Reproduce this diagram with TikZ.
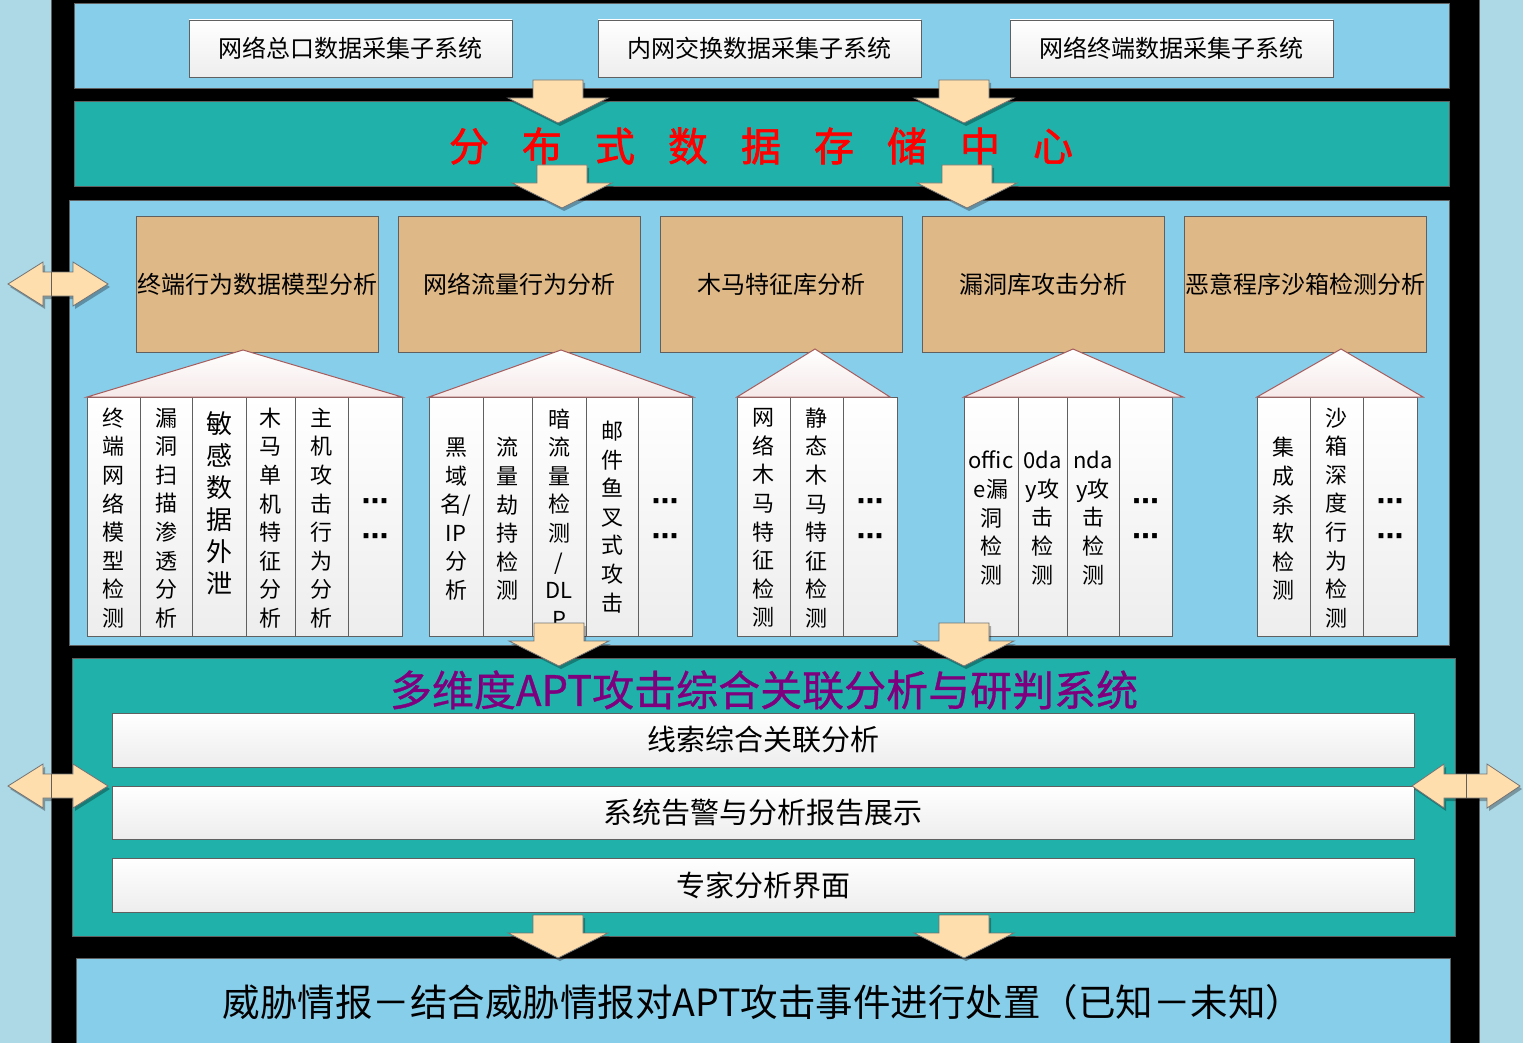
\documentclass[tikz,border=0pt]{standalone}
\usepackage{fontspec}
\setmainfont{Noto Sans CJK SC}
\newfontfamily\dotsfont{DejaVu Sans}
\newfontfamily\cjkheavy[FakeBold=1.6]{Noto Sans CJK SC}
\newfontfamily\cjkmid[FakeBold=0.8]{Noto Sans CJK SC}
\definecolor{skyb}{HTML}{87CEEB}
\definecolor{lightb}{HTML}{ADD8E6}
\definecolor{tealb}{HTML}{20B2AA}
\definecolor{burly}{HTML}{DEB887}
\definecolor{arrowfill}{HTML}{FFDEAD}
\definecolor{roofline}{HTML}{A65C5C}
\definecolor{rooffill}{HTML}{F6E9E9}
\definecolor{purp}{HTML}{7F007F}
\definecolor{edgegray}{HTML}{606060}
\newcommand\sgap{\hspace{33pt}}
\newcommand\dblarrowshape[5]{%
  \fill[black,opacity=0.3,shift={(2,3)}] (#1,#5) -- (#2,#5-22) -- (#2,#5-12) -- (#3,#5-12) -- (#3,#5-22) -- (#4,#5) -- (#3,#5+22) -- (#3,#5+12) -- (#2,#5+12) -- (#2,#5+22) -- cycle;
  \draw[arr] (#1,#5) -- (#2,#5-22) -- (#2,#5-12) -- (#3,#5-12) -- (#3,#5-22) -- (#4,#5) -- (#3,#5+22) -- (#3,#5+12) -- (#2,#5+12) -- (#2,#5+22) -- cycle;}
\tikzset{
  box/.style={draw=edgegray, line width=0.9pt, inner sep=0pt, outer sep=0pt, anchor=north west},
  whitebox/.style={box, top color=white, bottom color=black!7},
  colbox/.style={box, top color=white, bottom color=black!7, minimum width=#1, minimum height=239pt},
  arr/.style={fill=arrowfill, draw=black!55, line width=0.8pt},
  roof/.style={draw=roofline, line width=1pt, top color=white, bottom color=rooffill},
  ttl/.style={font=\fontsize{24}{28}\selectfont},
  coltext/.style={align=center, inner sep=0pt, font=\fontsize{22}{28.6}\selectfont},
  dotstext/.style={align=center, inner sep=0pt, font=\dotsfont\bfseries\fontsize{27}{35}\selectfont},
  pics/downarr/.style={code={
    \fill[black,opacity=0.3,shift={(2,3)}] (-25,0) -- (25,0) -- (25,18) -- (50,18) -- (0,43) -- (-50,18) -- (-25,18) -- cycle;
    \draw[arr] (-25,0) -- (25,0) -- (25,18) -- (50,18) -- (0,43) -- (-50,18) -- (-25,18) -- cycle;
  }}
}
\begin{document}
\begin{tikzpicture}[x=1pt,y=-1pt]
\useasboundingbox (0,0) rectangle (1523,1043);
\fill[black] (0,0) rectangle (1523,1043);
% side strips
\node[box, fill=lightb, minimum width=53pt, minimum height=1047pt] (lstrip) at (-2,-2) {};
\node[box, fill=lightb, minimum width=48pt, minimum height=1047pt] (rstrip) at (1479,-2) {};
% top band
\node[box, fill=skyb, minimum width=1375pt, minimum height=85pt] (topband) at (74,3) {};
\node[whitebox, ttl, minimum width=323pt, minimum height=57pt] (s1) at (189,20) {网络总口数据采集子系统};
\node[whitebox, ttl, minimum width=323pt, minimum height=57pt] (s2) at (598,20) {内网交换数据采集子系统};
\node[whitebox, ttl, minimum width=323pt, minimum height=57pt] (s3) at (1010,20) {网络终端数据采集子系统};
% storage band
\node[box, fill=tealb, minimum width=1375pt, minimum height=85pt] (store) at (74,101) {};
\node[red, font=\cjkheavy\fontsize{40}{44}\selectfont, inner sep=0pt] (storetitle) at (761,146) {分\sgap 布\sgap 式\sgap 数\sgap 据\sgap 存\sgap 储\sgap 中\sgap 心};
% middle band
\node[box, fill=skyb, minimum width=1380pt, minimum height=445pt] (midband) at (69,200) {};
\node[box, fill=burly, ttl, minimum width=242pt, minimum height=136pt] (m1) at (136,216) {终端行为数据模型分析};
\node[box, fill=burly, ttl, minimum width=242pt, minimum height=136pt] (m2) at (398,216) {网络流量行为分析};
\node[box, fill=burly, ttl, minimum width=242pt, minimum height=136pt] (m3) at (660,216) {木马特征库分析};
\node[box, fill=burly, ttl, minimum width=242pt, minimum height=136pt] (m4) at (922,216) {漏洞库攻击分析};
\node[box, fill=burly, ttl, minimum width=242pt, minimum height=136pt] (m5) at (1184,216) {恶意程序沙箱检测分析};
% group 1 columns
\node[colbox=53pt] (c11) at (87,397) {};
\node[colbox=52pt] (c12) at (140,397) {};
\node[colbox=54pt] (c13) at (192,397) {};
\node[colbox=49pt] (c14) at (246,397) {};
\node[colbox=53pt] (c15) at (295,397) {};
\node[colbox=54pt] (c16) at (348,397) {};
% group 2
\node[colbox=54pt] (c21) at (429,397) {};
\node[colbox=49pt] (c22) at (483,397) {};
\node[colbox=54pt] (c23) at (532,397) {};
\node[colbox=52pt] (c24) at (586,397) {};
\node[colbox=54pt] (c25) at (638,397) {};
% group 3
\node[colbox=53pt] (c31) at (737,397) {};
\node[colbox=53pt] (c32) at (790,397) {};
\node[colbox=54pt] (c33) at (843,397) {};
% group 4
\node[colbox=54pt] (c41) at (964,397) {};
\node[colbox=49pt] (c42) at (1018,397) {};
\node[colbox=52pt] (c43) at (1067,397) {};
\node[colbox=53pt] (c44) at (1119,397) {};
% group 5
\node[colbox=53pt] (c51) at (1257,397) {};
\node[colbox=53pt] (c52) at (1310,397) {};
\node[colbox=54pt] (c53) at (1363,397) {};
% roofs
\draw[roof] (87,397) -- (243,350) -- (402,397) -- cycle;
\draw[roof] (429,397) -- (561,350) -- (693,397) -- cycle;
\draw[roof] (737,397) -- (815,349) -- (890,397) -- cycle;
\draw[roof] (964,397) -- (1073,349) -- (1183,397) -- cycle;
\draw[roof] (1257,397) -- (1341,349) -- (1423,397) -- cycle;
% column texts
\node[coltext] (t11) at (113.5,518) {终\\端\\网\\络\\模\\型\\检\\测};
\node[coltext] (t12) at (166,518) {漏\\洞\\扫\\描\\渗\\透\\分\\析};
\node[coltext, font=\fontsize{26}{32}\selectfont] (t13) at (219,503) {敏\\感\\数\\据\\外\\泄};
\node[coltext] (t14) at (270.5,518) {木\\马\\单\\机\\特\\征\\分\\析};
\node[coltext] (t15) at (321.5,518) {主\\机\\攻\\击\\行\\为\\分\\析};
\node[dotstext] (t16) at (375,522) {⋯\\⋯};
\node[coltext] (t21) at (456,519) {黑\\域\\名/\\IP\\分\\析};
\node[coltext] (t22) at (507.5,519) {流\\量\\劫\\持\\检\\测};
\node[coltext] (t23) at (559,518) {暗\\流\\量\\检\\测\\/\\DL\\P};
\node[coltext] (t24) at (612,517) {邮\\件\\鱼\\叉\\式\\攻\\击};
\node[dotstext] (t25) at (665,522) {⋯\\⋯};
\node[coltext] (t31) at (763.5,518) {网\\络\\木\\马\\特\\征\\检\\测};
\node[coltext] (t32) at (816.5,518) {静\\态\\木\\马\\特\\征\\检\\测};
\node[dotstext] (t33) at (870,522) {⋯\\⋯};
\node[coltext] (t41) at (991,518) {offic\\e漏\\洞\\检\\测};
\node[coltext] (t42) at (1042.5,518) {0da\\y攻\\击\\检\\测};
\node[coltext] (t43) at (1093,518) {nda\\y攻\\击\\检\\测};
\node[dotstext] (t44) at (1145.5,522) {⋯\\⋯};
\node[coltext] (t51) at (1283.5,519) {集\\成\\杀\\软\\检\\测};
\node[coltext] (t52) at (1336.5,518) {沙\\箱\\深\\度\\行\\为\\检\\测};
\node[dotstext] (t53) at (1390,522) {⋯\\⋯};
% analysis band
\node[box, fill=tealb, minimum width=1383pt, minimum height=278pt] (analysis) at (72,658) {};
\node[purp, font=\cjkmid\fontsize{42}{46}\selectfont, inner sep=0pt] (antitle) at (764,690) {多维度APT攻击综合关联分析与研判系统};
\node[whitebox, font=\fontsize{29}{32}\selectfont, minimum width=1302pt, minimum height=54pt] (b1) at (112,713) {线索综合关联分析};
\node[whitebox, font=\fontsize{29}{32}\selectfont, minimum width=1302pt, minimum height=53pt] (b2) at (112,786) {系统告警与分析报告展示};
\node[whitebox, font=\fontsize{29}{32}\selectfont, minimum width=1302pt, minimum height=54pt] (b3) at (112,858) {专家分析界面};
% bottom band
\node[box, fill=skyb, minimum width=1374pt, minimum height=95pt] (intel) at (76,958) {};
\node[font=\fontsize{37.5}{40}\selectfont, inner sep=0pt] (inteltext) at (763,1002) {威胁情报－结合威胁情报对APT攻击事件进行处置（已知－未知）};
% down arrows
\pic at (558,80) {downarr};
\pic at (964,80) {downarr};
\pic at (562,165) {downarr};
\pic at (967,165) {downarr};
\pic at (559,623) {downarr};
\pic at (964,623) {downarr};
\pic at (558,915) {downarr};
\pic at (964,915) {downarr};
% double arrows
\dblarrowshape{8}{43}{73}{108}{284}
\draw[edgegray, line width=0.9pt] (51,272) -- (51,296);
\dblarrowshape{8}{43}{73}{108}{786}
\draw[edgegray, line width=0.9pt] (51,774) -- (51,798);
\dblarrowshape{1412}{1444}{1487}{1520}{786}
\draw[edgegray, line width=0.9pt] (1466,774) -- (1466,798);
\end{tikzpicture}
\end{document}
